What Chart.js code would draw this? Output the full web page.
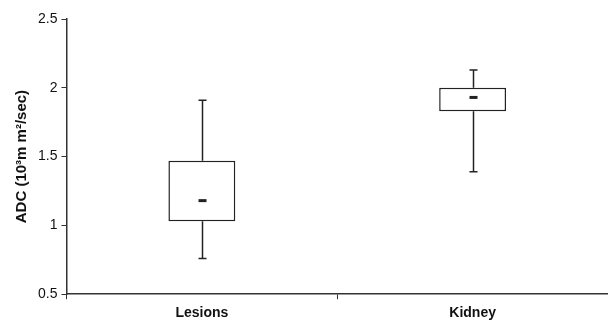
<!DOCTYPE html>
<html>
<head>
<meta charset="utf-8">
<script src="https://cdn.jsdelivr.net/npm/chart.js@4"></script>
<style>
  html, body { margin: 0; padding: 0; background: #fff; }
  #wrap { width: 608px; height: 324px; }
</style>
</head>
<body>
<div id="wrap"><canvas id="chart"></canvas></div>
<script>
'use strict';

const categories = ['Lesions', 'Kidney'];
const whiskerLow = [0.76, 1.39];
const q1 = [1.03, 1.83];
const median = [1.18, 1.93];
const q3 = [1.47, 2.0];
const whiskerHigh = [1.91, 2.13];
const yTicks = [0.5, 1, 1.5, 2, 2.5];

// whiskers and median dashes, placed through the chart's own scales
const boxExtras = {
    id: 'boxExtras',
    afterDatasetsDraw(chart) {
        const ctx = chart.ctx;
        const x = chart.scales.x;
        const y = chart.scales.y;
        ctx.save();
        ctx.strokeStyle = '#222';
        categories.forEach((c, i) => {
            const cx = Math.round(x.getPixelForValue(i)) + 0.5;
            const yLo = y.getPixelForValue(whiskerLow[i]);
            const yQ1 = y.getPixelForValue(q1[i]);
            const yQ3 = y.getPixelForValue(q3[i]);
            const yHi = y.getPixelForValue(whiskerHigh[i]);
            const yMed = y.getPixelForValue(median[i]);
            ctx.lineWidth = 1.5;
            ctx.beginPath();
            ctx.moveTo(cx, yQ1); ctx.lineTo(cx, yLo);
            ctx.moveTo(cx - 4, yLo); ctx.lineTo(cx + 4, yLo);
            ctx.moveTo(cx, yQ3); ctx.lineTo(cx, yHi);
            ctx.moveTo(cx - 4, yHi); ctx.lineTo(cx + 4, yHi);
            ctx.stroke();
            ctx.lineWidth = 3;
            ctx.beginPath();
            ctx.moveTo(cx - 4, yMed); ctx.lineTo(cx + 4, yMed);
            ctx.stroke();
        });
        ctx.restore();
    }
};

const ctx = document.getElementById('chart').getContext('2d');
new Chart(ctx, {
    type: 'bar',
    data: {
        labels: categories,
        datasets: [{
            data: categories.map((c, i) => [q1[i], q3[i]]),
            backgroundColor: '#fff',
            borderColor: '#222',
            borderWidth: 1.5,
            borderSkipped: false,
            categoryPercentage: 1,
            barPercentage: 0.247
        }]
    },
    options: {
        responsive: true,
        maintainAspectRatio: false,
        animation: false,
        layout: { padding: { top: 19, right: 0, left: 9, bottom: -4 } },
        plugins: {
            legend: { display: false },
            tooltip: { enabled: false }
        },
        scales: {
            x: {
                offset: true,
                grid: {
                    offset: true,
                    drawOnChartArea: false,
                    tickLength: 5,
                    color: '#333'
                },
                border: { color: '#333', width: 1.5 },
                ticks: {
                    color: '#111',
                    padding: 6,
                    font: { family: 'Liberation Sans, Arial, sans-serif', size: 14, weight: 'bold' }
                }
            },
            y: {
                min: 0.5,
                max: 2.5,
                afterBuildTicks(scale) {
                    scale.ticks = yTicks.map(v => ({ value: v }));
                },
                grid: {
                    drawOnChartArea: false,
                    tickLength: 5,
                    color: '#333'
                },
                border: { color: '#333', width: 1.5 },
                ticks: {
                    color: '#111',
                    padding: 4,
                    font: { family: 'Liberation Sans, Arial, sans-serif', size: 14 },
                    callback: v => String(v)
                },
                title: {
                    display: true,
                    text: 'ADC (10³m m²/sec)',
                    color: '#111',
                    padding: { top: 4, bottom: 3 },
                    font: { family: 'Liberation Sans, Arial, sans-serif', size: 15, weight: 'bold' }
                }
            }
        }
    },
    plugins: [boxExtras]
});
</script>
</body>
</html>
